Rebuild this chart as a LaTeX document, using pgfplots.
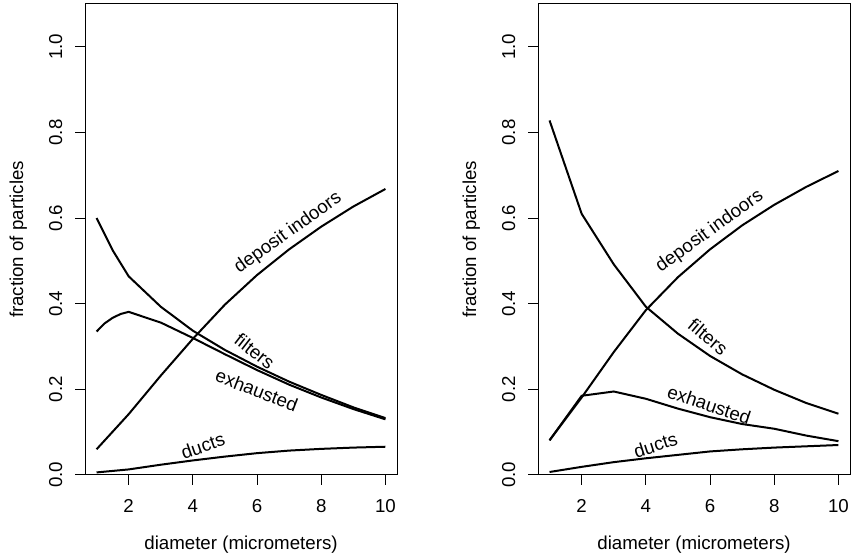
\documentclass[border=0pt]{standalone}
\usepackage{fontspec}
\setmainfont{Liberation Sans}
\usepackage{pgfplots}
\pgfplotsset{compat=1.18}

\newcommand{\fs}{\fontsize{9.35}{11}\selectfont}

\pgfplotsset{
  curve/.style={black, line width=1pt, mark=none},
  rpanel/.style={
    scale only axis, width=156pt, height=235.5pt,
    xmin=0.64, xmax=10.36, ymin=0, ymax=1.1,
    xtick={2,4,6,8,10}, ytick={0,0.2,0.4,0.6,0.8,1},
    xtick pos=bottom, ytick pos=left,
    tick align=outside, major tick length=5pt,
    tick style={black, line width=0.5pt},
    axis line style={line width=0.5pt},
    /pgf/number format/assume math mode=true,
    tick label style={font=\fs},
    label style={font=\fs},
    yticklabel style={/pgf/number format/fixed,
      /pgf/number format/fixed zerofill,
      /pgf/number format/precision=1,
      rotate=90, anchor=south, inner sep=0pt},
    xticklabel style={anchor=north, inner sep=0pt},
    xticklabel shift=7pt, yticklabel shift=6.1pt,
    xlabel={diameter (micrometers)},
    ylabel={fraction of particles},
    xlabel style={at={(axis description cs:0.5,-0.1486)}, anchor=center},
    ylabel style={at={(axis description cs:-0.2138,0.5)}, anchor=center},
  }
}

\begin{document}
\begin{tikzpicture}
\useasboundingbox (0,0) rectangle (425.5pt,280pt);

% left panel
\begin{axis}[rpanel, at={(42.5pt,42.5pt)}, anchor=south west]
\addplot[curve] coordinates {(1,0.600)(1.5,0.525)(2,0.464)(3,0.393)(4,0.337)(5,0.292)(6,0.253)(7,0.218)(8,0.187)(9,0.158)(10,0.133)};
\addplot[curve] coordinates {(1,0.335)(1.25,0.354)(1.5,0.367)(1.75,0.376)(2,0.381)(3,0.356)(4,0.320)(5,0.282)(6,0.245)(7,0.211)(8,0.181)(9,0.154)(10,0.130)};
\addplot[curve] coordinates {(1,0.060)(2,0.142)(3,0.232)(4,0.318)(5,0.398)(6,0.467)(7,0.527)(8,0.580)(9,0.627)(10,0.668)};
\addplot[curve] coordinates {(1,0.006)(2,0.013)(3,0.024)(4,0.034)(5,0.043)(6,0.051)(7,0.057)(8,0.061)(9,0.064)(10,0.066)};
\node[font=\fs, rotate=35.5] at (axis cs:6.97,0.565) {deposit indoors};
\node[font=\fs, rotate=-38] at (axis cs:5.93,0.289) {filters};
\node[font=\fs, rotate=-21] at (axis cs:5.99,0.198) {exhausted};
\node[font=\fs, rotate=19] at (axis cs:4.31,0.068) {ducts};
\end{axis}

% right panel
\begin{axis}[rpanel, at={(269pt,42.5pt)}, anchor=south west]
\addplot[curve] coordinates {(1,0.828)(2,0.610)(3,0.492)(4,0.393)(5,0.330)(6,0.278)(7,0.235)(8,0.199)(9,0.168)(10,0.143)};
\addplot[curve] coordinates {(1,0.081)(2,0.181)(3,0.287)(4,0.385)(5,0.462)(6,0.527)(7,0.583)(8,0.631)(9,0.673)(10,0.710)};
\addplot[curve] coordinates {(1,0.081)(2,0.185)(3,0.195)(4,0.178)(5,0.155)(6,0.135)(7,0.119)(8,0.108)(9,0.092)(10,0.079)};
\addplot[curve] coordinates {(1,0.007)(2,0.019)(3,0.030)(4,0.039)(5,0.047)(6,0.055)(7,0.060)(8,0.064)(9,0.067)(10,0.070)};
\node[font=\fs, rotate=35.5] at (axis cs:5.99,0.569) {deposit indoors};
\node[font=\fs, rotate=-40] at (axis cs:5.94,0.323) {filters};
\node[font=\fs, rotate=-18.5] at (axis cs:5.97,0.164) {exhausted};
\node[font=\fs, rotate=18] at (axis cs:4.30,0.070) {ducts};
\end{axis}
\end{tikzpicture}
\end{document}
